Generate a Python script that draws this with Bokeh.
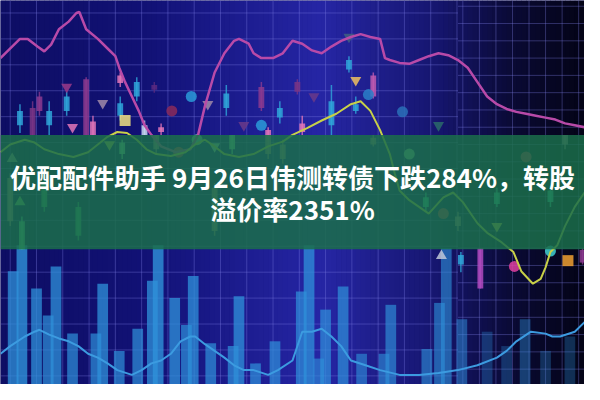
import numpy as np
from bokeh.plotting import figure
from bokeh.models import Range1d
from bokeh.core.properties import value
from bokeh.embed import file_html
from bokeh.resources import INLINE

# ---------------- data (reference pixel units, y downwards) ----------------
title_lines = ["优配配件助手 9月26日伟测转债下跌284%，转股", "溢价率2351%"]

pink_x = [0, 8, 20, 28, 38, 45, 52, 60, 70, 78, 81, 88, 100, 110, 118, 122, 128, 135, 142, 148, 155,
          165, 180, 195, 203, 210, 220, 230, 240, 245, 255, 260, 268, 280, 290, 300, 310, 320, 330,
          340, 350, 360, 370, 380, 390, 395, 400, 410, 420, 430, 440, 450, 460, 470, 480, 490, 500,
          510, 520, 530, 540, 550, 560, 570, 580, 590, 600]
pink_y = [60, 52, 40, 40, 48, 53, 46, 30, 22, 13, 12, 30, 40, 50, 58, 70, 85, 100, 115, 130, 140,
          152, 158, 155, 140, 110, 75, 55, 42, 40, 45, 55, 60, 60, 55, 42, 45, 52, 55, 48, 42, 38,
          35, 38, 40, 60, 62, 65, 66, 62, 58, 55, 57, 62, 70, 85, 100, 108, 113, 116, 118, 120, 122,
          124, 128, 130, 132]

yellow_x = [0, 10, 25, 35, 45, 60, 75, 90, 100, 110, 120, 130, 140, 150, 160, 175, 190, 200, 210,
            220, 230, 245, 260, 275, 290, 300, 315, 330, 345, 360, 370, 380, 390, 400, 405, 410,
            420, 440, 455, 465, 475, 490, 500, 515, 527, 535, 547, 555, 560, 565, 572, 580, 590, 600]
yellow_y = [158, 150, 145, 148, 155, 160, 163, 158, 150, 142, 137, 138, 145, 155, 160, 162, 158,
            150, 145, 152, 160, 163, 160, 152, 147, 140, 133, 125, 118, 108, 105, 115, 135, 160,
            180, 198, 208, 222, 205, 200, 210, 232, 242, 252, 262, 282, 295, 290, 278, 262, 255,
            235, 215, 200]

blue_x = [0, 10, 25, 35, 40, 50, 60, 70, 80, 90, 100, 110, 120, 135, 145, 155, 165, 175, 185, 195,
          200, 210, 220, 230, 240, 250, 260, 275, 285, 300, 310, 320, 330, 340, 350, 360, 375, 390,
          410, 430, 450, 470, 490, 510, 520, 530, 545, 560, 567, 575, 590, 600]
blue_y = [368, 360, 350, 345, 343, 348, 352, 355, 360, 368, 372, 378, 385, 390, 385, 378, 375, 368,
          355, 350, 350, 358, 365, 372, 380, 385, 385, 390, 385, 375, 345, 345, 342, 350, 360, 375,
          380, 385, 390, 390, 388, 385, 380, 372, 365, 355, 345, 347, 350, 350, 345, 335]

bar_x = [13, 22, 37, 49, 57, 74, 98, 105, 122, 141, 156, 162, 179, 191, 198, 216, 239, 245, 262,
         282, 309, 317, 327, 334, 352, 371, 394, 401, 438, 451, 458, 474, 500, 520, 539, 560, 585]
bar_top = [282, 255, 300, 328, 277, 347, 347, 295, 365, 342, 292, 255, 310, 338, 287, 357, 360,
           308, 378, 355, 303, 255, 373, 322, 298, 368, 368, 317, 363, 315, 258, 332, 345, 360,
           332, 365, 350]
bar_alpha = [0.75, 0.8, 0.75, 0.7, 0.75, 0.7, 0.7, 0.75, 0.7, 0.7, 0.75, 0.8, 0.75, 0.7, 0.75,
             0.7, 0.7, 0.75, 0.7, 0.7, 0.7, 0.75, 0.6, 0.7, 0.7, 0.6, 0.6, 0.65, 0.6, 0.6, 0.6,
             0.5, 0.3, 0.3, 0.4, 0.3, 0.3]

cdl_x = [20, 33, 40, 50, 68, 88, 95, 123, 123, 140, 148, 158, 165, 232, 268, 275, 287, 305, 310,
         340, 358, 365, 383, 473, 493, 598,
         10, 22, 45, 80, 125, 160, 220, 238, 275, 290, 383, 437, 470, 510, 565, 580]
cdl_top = [115, 112, 100, 115, 100, 82, 126, 78, 107, 85, 130, 88, 132, 97, 90, 135, 112, 85, 128,
           105, 62, 108, 78, 265, 258, 260,
           185, 230, 190, 215, 148, 140, 195, 140, 140, 150, 143, 205, 225, 200, 198, 140]
cdl_bot = [130, 140, 115, 130, 115, 140, 140, 86, 120, 100, 140, 93, 137, 112, 112, 140, 122, 95,
           137, 130, 72, 115, 100, 275, 300, 273,
           230, 259, 215, 245, 160, 155, 240, 155, 160, 165, 150, 215, 235, 212, 210, 150]
cdl_hi = [108, 105, 95, 105, 95, 80, 120, 75, 100, 80, 125, 85, 128, 88, 85, 132, 105, 82, 120,
          88, 58, 100, 75, 262, 258, 258,
          180, 225, 185, 210, 145, 140, 190, 140, 140, 145, 140, 200, 220, 195, 193, 140]
cdl_lo = [138, 140, 120, 140, 120, 140, 140, 90, 125, 105, 140, 96, 140, 120, 115, 140, 128, 98,
          140, 140, 75, 118, 102, 283, 300, 275,
          235, 259, 220, 250, 165, 160, 245, 160, 165, 170, 152, 220, 240, 215, 215, 155]
cdl_color = ["#2fa6d9", "#7a3585", "#8b3a8f", "#2fa6d9", "#2fa6d9", "#8b3a8f", "#e275b8",
             "#e275b8", "#2fa6d9", "#2fa6d9", "#c8d8f0", "#5a2a80", "#e275b8", "#2fa6d9",
             "#8b3a8f", "#e275b8", "#2fa6d9", "#7a3585", "#e275b8", "#2fa6d9", "#2fa6d9",
             "#2fa6d9", "#c05ab0", "#2fa6d9", "#b04ac0", "#8b3a8f",
             "#a08a90", "#60e0a0", "#40b080", "#40b080", "#80f0b0", "#a08a90", "#a08a90",
             "#80f0b0", "#a08a90", "#a08a90", "#a08a90", "#40e0b0", "#a08a90", "#40e0b0",
             "#40e0b0", "#a08a90"]

mk_x = [68, 74, 105, 213, 250, 322, 358, 365, 450, 112, 220, 510,
        12, 20, 453,
        176, 196, 268, 378, 413, 183, 202, 420, 455, 540, 528, 565,
        128, 583]
mk_y = [90, 132, 107, 108, 130, 100, 38, 83, 130, 150, 152, 235,
        165, 210, 266,
        115, 100, 130, 98, 116, 158, 145, 160, 222, 163, 277, 261,
        125, 271]
mk_type = ["inverted_triangle"] * 12 + ["triangle"] * 3 + ["circle"] * 12 + ["square"] * 2
mk_color = ["#9a3a8a", "#e275b8", "#a08aa8", "#a08aa8", "#6a3a8a", "#6a3a8a", "#406080",
            "#f0c060", "#2a6a6a", "#d0e050", "#b0f0c0", "#e0e050",
            "#a0b0a0", "#80e080", "#c0c8d8",
            "#8a2a5a", "#2a9ad8", "#2a9ad8", "#2a80c8", "#2a70b8", "#d04060", "#90f0c0",
            "#90e0b0", "#d04060", "#d04060", "#e040a0", "#40d0d0",
            "#f0e080", "#f0a030"]

# ---------------- figure ----------------
W, H = 584, 384
p = figure(width=W, height=H, x_range=Range1d(0, 600), y_range=Range1d(400, 0),
           output_backend="svg", toolbar_location=None, min_border=0)
p.axis.visible = False
p.grid.visible = False
p.outline_line_color = None
p.background_fill_color = "#0c0c60"

# background gradient as thin vertical strips
stops_x = [0, 150, 330, 450, 530, 600]
stops_c = np.array([[14, 14, 100], [18, 18, 118], [38, 38, 165], [22, 22, 110], [10, 10, 50],
                    [4, 4, 22]], dtype=float)
strip_l = np.arange(0, 600, 5)
mids = strip_l + 2.5
cols = []
for m in mids:
    r, g, b = (int(np.interp(m, stops_x, stops_c[:, k])) for k in range(3))
    cols.append("#%02x%02x%02x" % (r, g, b))
p.quad(left=strip_l, right=strip_l + 5.6, top=0, bottom=400, fill_color=cols, line_color=None)

# grid
gx, gy = [], []
for x in list(np.arange(10, 470, 27)) + list(np.arange(475, 600, 17)):
    gx.append([x, x]); gy.append([0, 400])
p.multi_line(gx, gy, line_color="#8080e8", line_alpha=0.35, line_width=1)
hx, hy = [], []
for y in np.arange(13, 400, 27):
    hx.append([0, 470]); hy.append([y, y])
for y in np.arange(6, 400, 18):
    hx.append([470, 600]); hy.append([y, y])
p.multi_line(hx, hy, line_color="#8080e8", line_alpha=0.35, line_width=1)

# volume bars
p.vbar(x=bar_x, top=bar_top, bottom=400, width=11, fill_color="#2f92da",
       fill_alpha=bar_alpha, line_color=None)
p.line(blue_x, blue_y, line_color="#3c9be0", line_width=2)

# candles
p.segment(x0=cdl_x, y0=cdl_hi, x1=cdl_x, y1=cdl_lo, line_color=cdl_color, line_width=1.5,
          line_alpha=0.8)
p.vbar(x=cdl_x, top=cdl_top, bottom=cdl_bot, width=6, fill_color=cdl_color, line_color=None,
       fill_alpha=0.85)
p.scatter(x=mk_x, y=mk_y, marker=mk_type, size=11, fill_color=mk_color, line_color=None,
          fill_alpha=0.85)

# lines
p.line(pink_x, pink_y, line_color="#b84aa8", line_width=2.5)
p.line(yellow_x, yellow_y, line_color="#c8d048", line_width=2)

# title band
p.quad(left=0, right=600, top=140, bottom=259, fill_color="#1b6e4a", fill_alpha=0.86,
       line_color=None)
p.text(x=[300, 300], y=[183, 217], text=title_lines, text_color="white",
       text_font=value("Noto Sans CJK SC"), text_font_style="bold", text_font_size="26px",
       text_align="center", text_baseline="middle")

open("out.html", "w").write(file_html(p, INLINE))
